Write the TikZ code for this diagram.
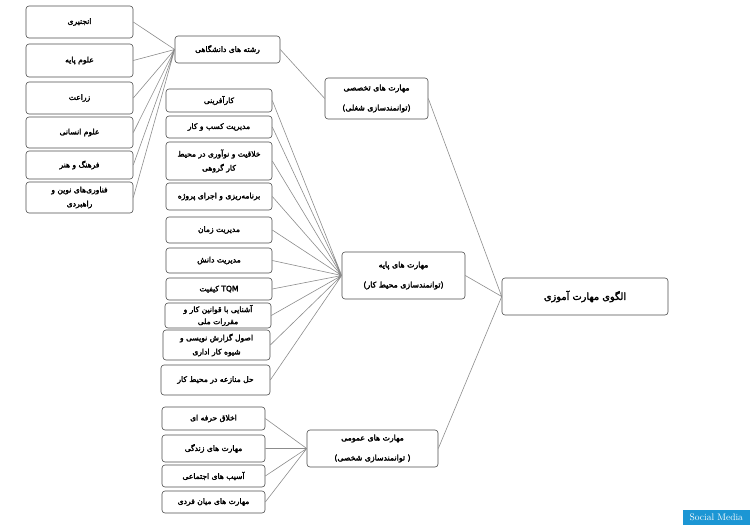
\documentclass[tikz,border=0pt]{standalone}
\usepackage{fontspec}
\newfontfamily\fafont[Script=Arabic,FakeBold=2.5]{DejaVu Sans}
\TeXXeTstate=1
\newcommand{\fa}[1]{\beginR#1\endR}
\definecolor{badgeblue}{RGB}{28,150,212}

\begin{document}
\begin{tikzpicture}[x=1pt,y=-1pt,
	box/.style={draw=black!70,line width=.6pt,rounded corners=3pt,align=center,inner sep=1pt,
		font=\fafont\fontsize{7.6}{14}\selectfont},
	hub/.style={box,font=\fafont\fontsize{7.8}{20}\selectfont},
	link/.style={draw=black!45,line width=.6pt}]
	\useasboundingbox (0,0) rectangle (750,525);
	% university fields
	\node[box,minimum width=107,minimum height=32] (l1) at (79.5,22) {\fa{انجنیری}};
	\node[box,minimum width=107,minimum height=33] (l2) at (79.5,60.5) {\fa{علوم پایه}};
	\node[box,minimum width=107,minimum height=32] (l3) at (79.5,98) {\fa{زراعت}};
	\node[box,minimum width=107,minimum height=31] (l4) at (79.5,132.5) {\fa{علوم انسانی}};
	\node[box,minimum width=107,minimum height=28] (l5) at (79.5,165) {\fa{فرهنگ و هنر}};
	\node[box,minimum width=107,minimum height=31] (l6) at (79.5,197.5) {\fa{فناوری‌های نوین و}\\\fa{راهبردی}};
	\node[box,minimum width=105,minimum height=27] (uni) at (227.5,49.5) {\fa{رشته های دانشگاهی}};
	\node[hub,minimum width=103,minimum height=41] (spec) at (376.5,98.5) {\fa{مهارت های تخصصی}\\\fa{(توانمندسازی شغلی)}};
	% workplace skills
	\node[box,minimum width=106,minimum height=23] (m1) at (219,100.5) {\fa{کارآفرینی}};
	\node[box,minimum width=106,minimum height=22] (m2) at (219,127) {\fa{مدیریت کسب و کار}};
	\node[box,minimum width=106,minimum height=38] (m3) at (219,161) {\fa{خلاقیت و نوآوری در محیط}\\\fa{کار گروهی}};
	\node[box,minimum width=106,minimum height=27] (m4) at (219,196.5) {\fa{برنامه‌ریزی و اجرای پروژه}};
	\node[box,minimum width=106,minimum height=26] (m5) at (219,230) {\fa{مدیریت زمان}};
	\node[box,minimum width=106,minimum height=25] (m6) at (219,260.5) {\fa{مدیریت دانش}};
	\node[box,minimum width=106,minimum height=22] (m7) at (219,289) {\fa{کیفیت} TQM};
	\node[box,minimum width=106,minimum height=25,font=\fafont\fontsize{7.6}{12}\selectfont] (m8) at (218,315.5) {\fa{آشنایی با قوانین کار و}\\\fa{مقررات ملی}};
	\node[box,minimum width=107,minimum height=30] (m9) at (216.5,345) {\fa{اصول گزارش نویسی و}\\\fa{شیوه کار اداری}};
	\node[box,minimum width=109,minimum height=30] (m10) at (215.5,380) {\fa{حل منازعه در محیط کار}};
	\node[hub,minimum width=123,minimum height=47] (base) at (403.5,275.5) {\fa{مهارت های پایه}\\\fa{(توانمندسازی محیط کار)}};
	% general skills
	\node[box,minimum width=103,minimum height=23] (b1) at (213.5,418.5) {\fa{اخلاق حرفه ای}};
	\node[box,minimum width=103,minimum height=27] (b2) at (213.5,448.5) {\fa{مهارت های زندگی}};
	\node[box,minimum width=103,minimum height=22] (b3) at (213.5,476) {\fa{آسیب های اجتماعی}};
	\node[box,minimum width=103,minimum height=22] (b4) at (213.5,502) {\fa{مهارت های میان فردی}};
	\node[hub,minimum width=131,minimum height=37] (gen) at (372.5,448.5) {\fa{مهارت های عمومی}\\\fa{( توانمندسازی شخصی)}};
	\node[box,minimum width=166,minimum height=37,font=\fafont\fontsize{9.8}{12}\selectfont] (root) at (585,296.5) {\fa{الگوی مهارت آموزی}};
	\node[fill=badgeblue,text=white,font=\fontsize{9.5}{10}\selectfont,inner sep=0pt,
		minimum width=67,minimum height=15,anchor=south east] (badge) at (750,525) {Social Media};
	% connectors
	\draw[link] (l1.east)--(uni.west) (l2.east)--(uni.west) (l3.east)--(uni.west)
		(l4.east)--(uni.west) (l5.east)--(uni.west) (l6.east)--(uni.west);
	\draw[link] (uni.east)--(spec.west);
	\draw[link] (m1.east)--(base.west) (m2.east)--(base.west) (m3.east)--(base.west)
		(m4.east)--(base.west) (m5.east)--(base.west) (m6.east)--(base.west)
		(m7.east)--(base.west) (m8.east)--(base.west) (m9.east)--(base.west)
		(m10.east)--(base.west);
	\draw[link] (b1.east)--(gen.west) (b2.east)--(gen.west) (b3.east)--(gen.west)
		(b4.east)--(gen.west);
	\draw[link] (spec.east)--(root.west) (base.east)--(root.west) (gen.east)--(root.west);
\end{tikzpicture}
\end{document}
